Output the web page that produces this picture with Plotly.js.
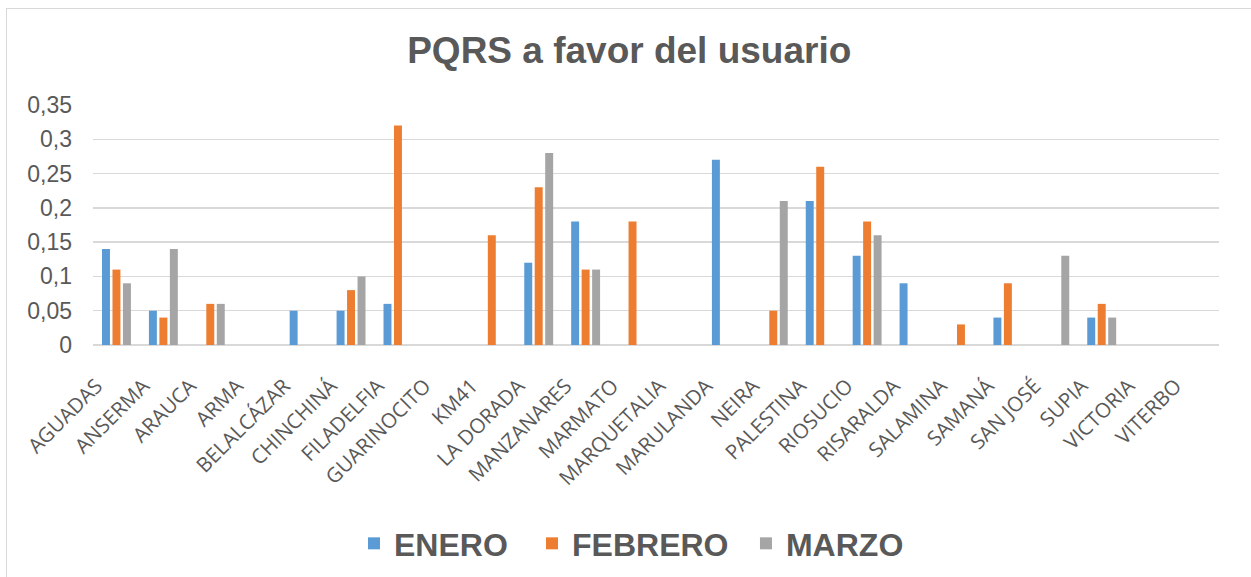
<!DOCTYPE html>
<html>
<head>
<meta charset="utf-8">
<script src="https://cdn.plot.ly/plotly-3.0.1.min.js"></script>
<style>
html,body{margin:0;padding:0;background:#fff;overflow:hidden;}
#frame{position:absolute;left:6px;top:8px;width:1300px;height:650px;border:1.5px solid #d9d9d9;box-sizing:border-box;}
#chart{position:absolute;left:0;top:0;width:1251px;height:577px;}
</style>
</head>
<body>
<div id="frame"></div>
<div id="chart"></div>
<script>
const categories = ["AGUADAS","ANSERMA","ARAUCA","ARMA","BELALCÁZAR","CHINCHINÁ","FILADELFIA","GUARINOCITO","KM41","LA DORADA","MANZANARES","MARMATO","MARQUETALIA","MARULANDA","NEIRA","PALESTINA","RIOSUCIO","RISARALDA","SALAMINA","SAMANÁ","SAN JOSÉ","SUPIA","VICTORIA","VITERBO"];
const enero   = [0.14,0.05,0,0,0.05,0.05,0.06,0,0,0.12,0.18,0,0,0.27,0,0.21,0.13,0.09,0,0.04,0,0.04,0,0];
const febrero = [0.11,0.04,0.06,0,0,0.08,0.32,0,0.16,0.23,0.11,0.18,0,0,0.05,0.26,0.18,0,0.03,0.09,0,0.06,0,0];
const marzo   = [0.09,0.14,0.06,0,0,0.10,0,0,0,0.28,0.11,0,0,0,0.21,0,0.16,0,0,0,0.13,0.04,0,0];
const seriesNames = ["ENERO","FEBRERO","MARZO"];
const yTicks = [0,0.05,0.1,0.15,0.2,0.25,0.3,0.35];
const yTickText = ["0","0,05","0,1","0,15","0,2","0,25","0,3","0,35"];

const colors = ["#5b9bd5","#ed7d31","#a5a5a5"];
const legendIds = ["legend","legend2","legend3"];
const data = [enero,febrero,marzo].map((v,i)=>({
  type:"bar", x:categories, y:v, name:seriesNames[i], legend:legendIds[i],
  marker:{color:colors[i], line:{width:0}}
}));

const legendFont = {family:"Arial, Liberation Sans", size:32, color:"#595959", weight:"bold"};
function mkLegend(x){
  return {orientation:"h", x:x, xanchor:"left", yref:"container", y:0.058, yanchor:"middle",
          font:legendFont, itemwidth:30, bgcolor:"rgba(0,0,0,0)"};
}

const layout = {
  width:1251, height:577,
  paper_bgcolor:"rgba(0,0,0,0)", plot_bgcolor:"rgba(0,0,0,0)",
  margin:{l:93, r:32, t:105, b:232},
  title:{text:"<b>PQRS a favor del usuario</b>", x:0.503, xanchor:"center", y:0.913, yanchor:"middle",
         font:{family:"Arial, Liberation Sans", size:37, color:"#595959"}},
  barmode:"group", bargap:0.33, bargroupgap:0.24,
  xaxis:{type:"category", tickangle:-45, showgrid:false, zeroline:false, showline:false, ticks:"",
         ticklabelstandoff:24, ticklabelshift:-20,
         tickfont:{family:"Open Sans, Noto Sans", size:20.5, color:"#595959"}, automargin:false},
  yaxis:{range:[0,0.35], tickvals:yTicks, ticktext:yTickText, showgrid:true, gridcolor:"#d9d9d9", gridwidth:1.5,
         zeroline:true, zerolinecolor:"#d9d9d9", zerolinewidth:1.5, showline:false, ticks:"", ticklen:0,
         ticklabelstandoff:20,
         tickfont:{family:"Arial, Liberation Sans", size:23, color:"#595959"}, automargin:false, fixedrange:true},
  showlegend:true,
  legend:mkLegend(0.2318),
  legend2:mkLegend(0.3899),
  legend3:mkLegend(0.5799)
};
Plotly.newPlot("chart", data, layout, {displayModeBar:false, staticPlot:true});
</script>
</body>
</html>
